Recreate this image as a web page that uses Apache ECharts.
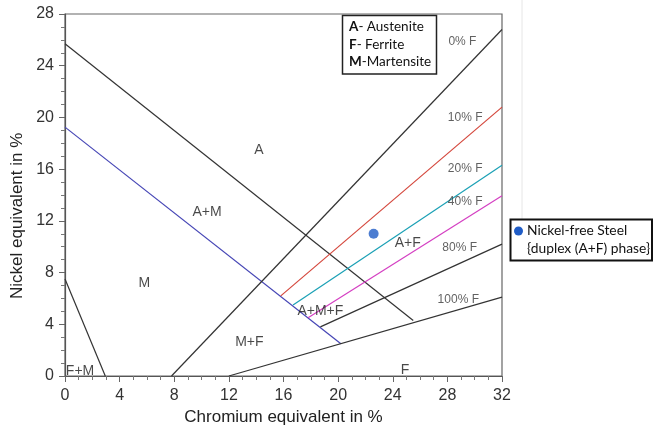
<!DOCTYPE html>
<html>
<head>
<meta charset="utf-8">
<script src="https://cdn.jsdelivr.net/npm/echarts@6/dist/echarts.min.js"></script>
<style>
html,body{margin:0;padding:0;background:#fff;}
#chart{width:653px;height:431px;}
</style>
</head>
<body>
<div id="chart"></div>
<script>
// Phase boundary lines (Cr eq, Ni eq)
const austeniteBoundary = [[0, 25.7], [25.5, 4.3]];
const martensiteBoundary = [[0, 19.25], [20.2, 2.5]];
const fmBoundary = [[0, 7.5], [2.95, 0]];
const ferrite0 = [[7.8, 0], [32, 26.8]];
const ferrite10 = [[15.8, 6.2], [32, 20.8]];
const ferrite20 = [[16.7, 5.5], [32, 16.3]];
const ferrite40 = [[17.8, 4.5], [32, 13.95]];
const ferrite80 = [[18.7, 3.8], [32, 10.2]];
const ferrite100 = [[12, 0], [32, 6.1]];
const steelPoint = [[22.6, 11]];

// Region labels
const regionNames = ['A', 'A+M', 'M', 'F+M', 'M+F', 'A+M+F', 'A+F', 'F'];
const regionCoords = [[14.2, 17.5], [10.4, 12.7], [5.8, 7.2], [1.1, 0.35], [13.5, 2.6], [18.7, 5.0], [25.1, 10.3], [24.9, 0.45]];
// Ferrite percentage labels
const ferriteNames = ['0% F', '10% F', '20% F', '40% F', '80% F', '100% F'];
const ferriteCoords = [[29.1, 25.85], [29.3, 20.0], [29.3, 16.0], [29.3, 13.5], [28.9, 9.9], [28.8, 5.9]];

const chart = echarts.init(document.getElementById('chart'), null, {renderer: 'canvas'});

function lineSeries(data, color) {
  return {
    type: 'line', data: data, showSymbol: false, silent: true,
    lineStyle: {color: color, width: 1.2}, z: 2
  };
}

const richBold = {b: {fontWeight: 'bold', fontFamily: 'Lato', fontSize: 13.5, fill: '#111'}};

const option = {
  animation: false,
  backgroundColor: '#fff',
  grid: {left: 65, top: 14, right: 151, bottom: 55, show: true, borderColor: '#666', borderWidth: 1.2},
  xAxis: {
    type: 'value', min: 0, max: 32, interval: 4,
    name: 'Chromium equivalent in %', nameLocation: 'middle', nameGap: 33,
    nameTextStyle: {fontFamily: 'Liberation Sans', fontSize: 17, color: '#222'},
    axisLine: {show: true, lineStyle: {color: '#555', width: 1.2}},
    axisTick: {show: true, length: 6, lineStyle: {color: '#666'}},
    minorTick: {show: true, splitNumber: 4, length: 4, lineStyle: {color: '#777'}},
    splitLine: {show: false},
    axisLabel: {fontFamily: 'Liberation Sans', fontSize: 16, color: '#333', margin: 12}
  },
  yAxis: {
    type: 'value', min: 0, max: 28, interval: 4,
    axisLine: {show: true, lineStyle: {color: '#555', width: 1.2}},
    axisTick: {show: true, length: 6, lineStyle: {color: '#666'}},
    minorTick: {show: true, splitNumber: 4, length: 4, lineStyle: {color: '#777'}},
    splitLine: {show: false},
    axisLabel: {fontFamily: 'Liberation Sans', fontSize: 16, color: '#333', margin: 11}
  },
  series: [
    lineSeries(austeniteBoundary, '#333'),
    lineSeries(martensiteBoundary, '#4545b5'),
    lineSeries(fmBoundary, '#333'),
    lineSeries(ferrite0, '#333'),
    lineSeries(ferrite10, '#d4463b'),
    lineSeries(ferrite20, '#1aa0b5'),
    lineSeries(ferrite40, '#d43fc2'),
    lineSeries(ferrite80, '#333'),
    lineSeries(ferrite100, '#333'),
    {
      type: 'scatter', data: steelPoint, symbolSize: 10, silent: true,
      itemStyle: {color: '#1f5cc6'}, z: 4
    },
    {
      type: 'scatter', symbolSize: 0, silent: true, z: 5,
      data: regionNames.map((n, i) => ({name: n, value: regionCoords[i]})),
      label: {show: true, position: 'inside', formatter: '{b}', fontFamily: 'Liberation Sans', fontSize: 14, color: '#1a1a1a'}
    },
    {
      type: 'scatter', symbolSize: 0, silent: true, z: 5,
      data: ferriteNames.map((n, i) => ({name: n, value: ferriteCoords[i]})),
      label: {show: true, position: 'inside', formatter: '{b}', fontFamily: 'Liberation Sans', fontSize: 12, color: '#3a3a3a'}
    }
  ],
  graphic: [
    {type: 'line', shape: {x1: 522, y1: 0, x2: 522, y2: 219}, style: {stroke: '#e6e6e6', lineWidth: 1}, silent: true},
    {type: 'rect', shape: {x: 342.5, y: 15.5, width: 94, height: 58.5}, style: {fill: '#fff', stroke: '#222', lineWidth: 1.5}, z: 10},
    {type: 'text', x: 349, y: 27, z: 11, style: {text: '{b|A}- Austenite', fontFamily: 'Lato', fontSize: 13.5, fill: '#111', verticalAlign: 'middle', rich: richBold}},
    {type: 'text', x: 349, y: 44.5, z: 11, style: {text: '{b|F}- Ferrite', fontFamily: 'Lato', fontSize: 13.5, fill: '#111', verticalAlign: 'middle', rich: richBold}},
    {type: 'text', x: 349, y: 62, z: 11, style: {text: '{b|M}-Martensite', fontFamily: 'Lato', fontSize: 13.5, fill: '#111', verticalAlign: 'middle', rich: richBold}},
    {type: 'rect', shape: {x: 510.5, y: 219.5, width: 141.5, height: 41}, style: {fill: '#fff', stroke: '#111', lineWidth: 2}, z: 10},
    {type: 'circle', shape: {cx: 518.5, cy: 231, r: 4.5}, style: {fill: '#1f5cc6'}, z: 11},
    {type: 'text', x: 527, y: 231, z: 11, style: {text: 'Nickel-free Steel', fontFamily: 'Lato', fontSize: 13.8, fill: '#111', verticalAlign: 'middle'}},
    {type: 'text', x: 527, y: 249, z: 11, style: {text: '{duplex (A+F) phase}', fontFamily: 'Lato', fontSize: 13.8, fill: '#111', verticalAlign: 'middle'}},
    {type: 'text', x: 9, y: 299, rotation: Math.PI / 2, z: 11, style: {text: 'Nickel equivalent in %', fontFamily: 'Liberation Sans', fontSize: 17, fill: '#222', verticalAlign: 'top'}}
  ]
};
chart.setOption(option);
</script>
</body>
</html>
